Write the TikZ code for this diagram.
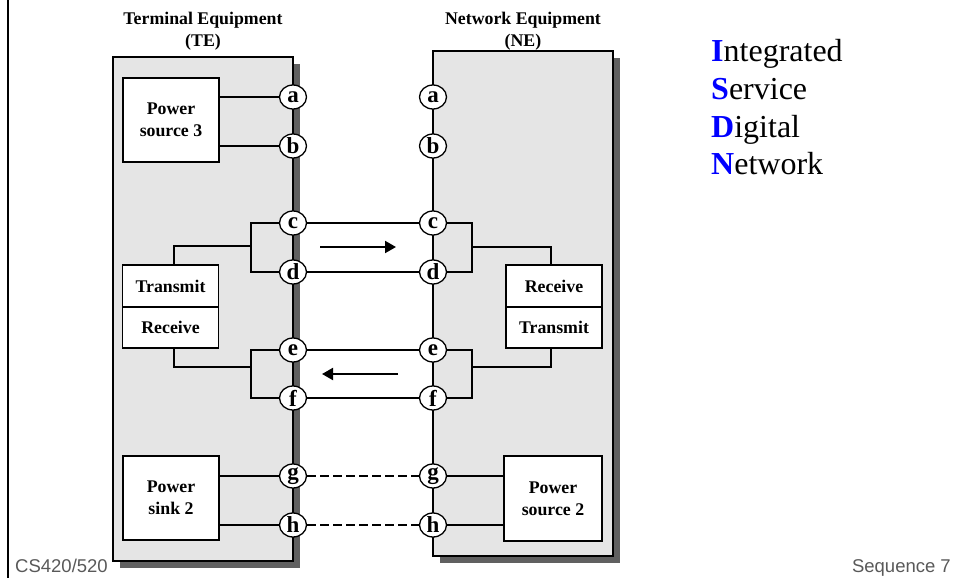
\documentclass[tikz,border=0pt]{standalone}
\usepackage{fontspec}
\setmainfont{Liberation Serif}
\newfontfamily\footerfont{Liberation Sans}
\usetikzlibrary{shapes.geometric,arrows.meta,shadows}
\definecolor{boxfill}{RGB}{229,229,229}
\definecolor{shadowfill}{RGB}{96,96,96}
\definecolor{footergray}{RGB}{89,89,89}
\definecolor{isdnblue}{RGB}{0,0,255}

\begin{document}
\begin{tikzpicture}[x=1pt,y=-1pt,
  equip/.style={draw, line width=2pt, fill=boxfill, inner sep=0pt,
    minimum width=180pt,
    drop shadow={shadow xshift=7pt, shadow yshift=-7pt, fill=shadowfill, opacity=1}},
  unit/.style={draw, line width=1.9pt, fill=white, inner sep=0pt,
    minimum width=96pt, align=center,
    font=\fontsize{17.8}{22}\selectfont\bfseries},
  port/.style={ellipse, draw, line width=1.3pt, fill=white, inner sep=0pt,
    minimum width=27pt, minimum height=24pt,
    font=\fontsize{23}{23}\selectfont\bfseries},
  wire/.style={line width=1.9pt},
  powerwire/.style={line width=1.9pt, dash pattern=on 8.5pt off 4.5pt},
  flow/.style={line width=1.9pt, -{Triangle[length=11pt,width=12pt]}},
  heading/.style={font=\fontsize{17.8}{22}\selectfont\bfseries, anchor=base, inner sep=0pt},
  acro/.style={font=\fontsize{32}{38}\selectfont, anchor=base west, inner sep=0pt},
  footer/.style={font=\footerfont\fontsize{18.5}{18.5}\selectfont, text=footergray, inner sep=0pt}
]
\useasboundingbox (0,0) rectangle (959,578);

% left margin rule
\coordinate (rule-top) at (8,0);
\coordinate (rule-bot) at (8,578);
\draw[line width=2pt] (rule-top) -- (rule-bot);

% equipment housings
\node[equip, minimum height=504pt] (te) at (203,309) {};
\node[equip, minimum height=505pt] (ne) at (523,303.5) {};

% headings
\node[heading] (te-title) at (203,25) {Terminal Equipment};
\node[heading] (te-abbr) at (203,46.5) {(TE)};
\node[heading] (ne-title) at (523,25) {Network Equipment};
\node[heading] (ne-abbr) at (523,46.5) {(NE)};

% interface points on both housings
\foreach \p/\y in {a/97,b/146,c/223,d/272,e/350,f/398,g/476,h/525} {
  \node[port] (te-\p) at (293,\y) {\p};
  \node[port] (ne-\p) at (433,\y) {\p};
}

% functional units
\node[unit, minimum height=84pt] (ps3) at (171,120) {Power\\source 3};
\node[unit, minimum height=42pt] (tx1) at (170.5,286) {Transmit};
\node[unit, minimum height=41pt] (rx1) at (170.5,327.5) {Receive};
\node[unit, minimum height=84pt] (psk2) at (171,498) {Power\\sink 2};
\node[unit, minimum height=42pt] (rx2) at (554,286) {Receive};
\node[unit, minimum height=41pt] (tx2) at (554,327.5) {Transmit};
\node[unit, minimum height=85pt, minimum width=98pt] (ps2) at (553,498.5) {Power\\source 2};

% power wiring inside the housings
\draw[wire] (te-a -| ps3.east) -- (te-a);
\draw[wire] (te-b -| ps3.east) -- (te-b);
\draw[wire] (te-g -| psk2.east) -- (te-g);
\draw[wire] (te-h -| psk2.east) -- (te-h);
\draw[wire] (ne-g) -- (ne-g -| ps2.west);
\draw[wire] (ne-h) -- (ne-h -| ps2.west);

% signal pairs between TE and NE
\draw[wire] (te-c) -- (ne-c);
\draw[wire] (te-d) -- (ne-d);
\draw[wire] (te-e) -- (ne-e);
\draw[wire] (te-f) -- (ne-f);

% optional power pairs
\draw[powerwire] (te-g) -- (ne-g);
\draw[powerwire] (te-h) -- (ne-h);

% pair brackets feeding transmitters and receivers
\coordinate (te-tx) at (251,246);
\coordinate (te-rx) at (251,367);
\coordinate (ne-rx) at (472,247);
\coordinate (ne-tx) at (472,367);
\draw[wire] (te-c) -| (te-tx) |- (te-d);
\draw[wire] (te-tx) -| ([xshift=3.5pt]tx1.north);
\draw[wire] (te-e) -| (te-rx) |- (te-f);
\draw[wire] (te-rx) -| ([xshift=3.5pt]rx1.south);
\draw[wire] (ne-c) -| (ne-rx) |- (ne-d);
\draw[wire] (ne-rx) -| ([xshift=-3pt]rx2.north);
\draw[wire] (ne-e) -| (ne-tx) |- (ne-f);
\draw[wire] (ne-tx) -| ([xshift=-3pt]tx2.south);

% direction of transmission
\coordinate (fwd-s) at (320,247);
\coordinate (fwd-e) at (396,247);
\draw[flow] (fwd-s) -- (fwd-e);
\coordinate (bwd-s) at (398,374);
\coordinate (bwd-e) at (322,374);
\draw[flow] (bwd-s) -- (bwd-e);

% acronym
\node[acro] (isdn-i) at (711,61.7) {\textcolor{isdnblue}{\textbf{I}}ntegrated};
\node[acro] (isdn-s) at (711,99.4) {\textcolor{isdnblue}{\textbf{S}}ervice};
\node[acro] (isdn-d) at (711,137.1) {\textcolor{isdnblue}{\textbf{D}}igital};
\node[acro] (isdn-n) at (711,174.8) {\textcolor{isdnblue}{\textbf{N}}etwork};

% footer
\node[footer, anchor=base west] (course) at (15,572) {CS420/520};
\node[footer, anchor=base east] (seq) at (951,572) {Sequence 7};
\end{tikzpicture}
\end{document}
